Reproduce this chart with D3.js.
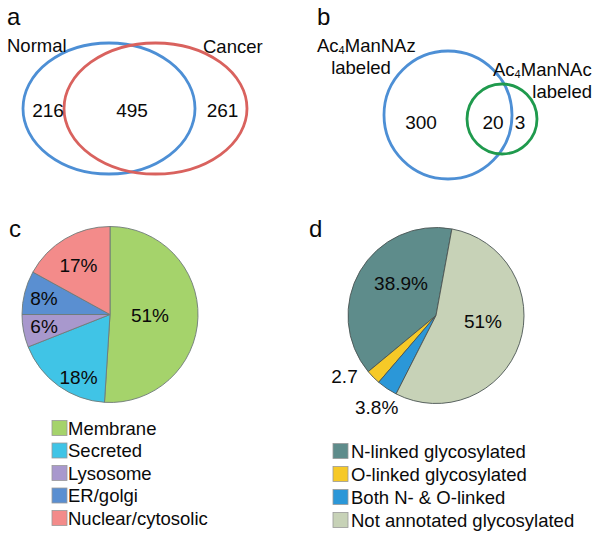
<!DOCTYPE html>
<html>
<head>
<meta charset="utf-8">
<script src="https://cdn.jsdelivr.net/npm/d3@7"></script>
<style>
  html, body { margin: 0; padding: 0; background: #fff; }
  svg { display: block; font-family: "Liberation Sans", Arial, sans-serif; }
</style>
</head>
<body>
<svg id="chart" width="603" height="540"></svg>
<script>
// ---------------- DATA ----------------
// Panel a: Venn (Normal vs Cancer)
const vennASets = ["Normal", "Cancer"];
const vennACounts = [216, 495, 261]; // Normal only, both, Cancer only

// Panel b: Venn (Ac4ManNAz vs Ac4ManNAc labeled)
const vennBSets = ["Ac4ManNAz labeled", "Ac4ManNAc labeled"];
const vennBCounts = [300, 20, 3];

// Panel c: subcellular localisation pie
const cCategories = ["Membrane", "Secreted", "Lysosome", "ER/golgi", "Nuclear/cytosolic"];
const cValues = [51, 18, 6, 8, 17];
const cLabels = ["51%", "18%", "6%", "8%", "17%"];
const cColors = ["#a5d36b", "#40c4e6", "#a898cd", "#5a8fd1", "#f38b8a"];

// Panel d: glycosylation annotation pie
const dCategories = ["N-linked glycosylated", "O-linked glycosylated", "Both N- & O-linked", "Not annotated glycosylated"];
const dValues = [38.9, 2.7, 3.8, 54.6];
const dLabels = ["38.9%", "2.7", "3.8%", "51%"];
const dColors = ["#5e8c8b", "#f6c927", "#2b97d8", "#c7d2b7"];

// ---------------- LAYOUT ----------------
const svg = d3.select("#chart");
const FS = 18.5;
const INK = "#0a0a0a";
const deg = Math.PI / 180;

function panelLetter(x, y, t) {
  svg.append("text").attr("x", x).attr("y", y).attr("font-size", 24).attr("fill", INK).text(t);
}
function txt(x, y, t, anchor, size) {
  return svg.append("text").attr("x", x).attr("y", y)
    .attr("text-anchor", anchor || "start")
    .attr("font-size", size || FS).attr("fill", INK).text(t);
}

// ---- Panel a ----
panelLetter(7, 25, "a");
const vennA = [
  { cx: 109, cy: 108.5, rx: 86, ry: 65.5, color: "#4d8fd5" },
  { cx: 155.5, cy: 108.5, rx: 91.5, ry: 65.5, color: "#d9625e" }
];
svg.append("g").selectAll("ellipse").data(vennA).join("ellipse")
  .attr("cx", d => d.cx).attr("cy", d => d.cy)
  .attr("rx", d => d.rx).attr("ry", d => d.ry)
  .attr("fill", "none").attr("stroke", d => d.color).attr("stroke-width", 2.8);
txt(7, 52, vennASets[0]);
txt(203, 53, vennASets[1]);
const aCountX = [48, 132, 222.5];
vennACounts.forEach((v, i) => txt(aCountX[i], 117, v, "middle", 19));

// ---- Panel b ----
panelLetter(317, 25, "b");
const vennB = [
  { cx: 448, cy: 115, r: 64, color: "#4d8fd5" },
  { cx: 502, cy: 119, r: 35, color: "#1f9a4d" }
];
svg.append("g").selectAll("circle").data(vennB).join("circle")
  .attr("cx", d => d.cx).attr("cy", d => d.cy).attr("r", d => d.r)
  .attr("fill", "none").attr("stroke", d => d.color).attr("stroke-width", 2.8);

function acLabel(x, y, last) {
  const t = svg.append("text").attr("x", x).attr("y", y).attr("font-size", FS).attr("fill", INK);
  t.append("tspan").text("Ac");
  t.append("tspan").attr("font-size", 11).attr("dy", 2).text("4");
  t.append("tspan").attr("dy", -2).text("ManNA" + last);
}
acLabel(317, 52, "z");
txt(361, 74, "labeled", "middle");
acLabel(493, 76, "c");
txt(592, 98, "labeled", "end");
const bCountX = [421, 493, 520];
vennBCounts.forEach((v, i) => txt(bCountX[i], 129, v, "middle", 19));

// ---- Panel c ----
panelLetter(9, 237, "c");
const cCenter = [110, 314.5], R = 88;
const arc = d3.arc().innerRadius(0).outerRadius(R);
const cPie = d3.pie().sort(null).value(d => d)(cValues);
const gc = svg.append("g").attr("transform", `translate(${cCenter})`);
gc.selectAll("path").data(cPie).join("path")
  .attr("d", arc).attr("fill", (d, i) => cColors[i])
  .attr("stroke", "#6f7a78").attr("stroke-width", 0.9);
// label placement (radius, angle in degrees clockwise from 12 o'clock)
const cLabelPos = [[40, 91.4], [70, 206.7], [67, 259.7], [68, 284], [58.7, 327.5]];
gc.selectAll("text.lbl").data(cPie).join("text").attr("class", "lbl")
  .attr("x", (d, i) => cLabelPos[i][0] * Math.sin(cLabelPos[i][1] * deg))
  .attr("y", (d, i) => -cLabelPos[i][0] * Math.cos(cLabelPos[i][1] * deg))
  .attr("dy", "0.36em").attr("text-anchor", "middle")
  .attr("font-size", 19).attr("fill", INK)
  .text((d, i) => cLabels[i]);

// legend c
const lgc = svg.append("g");
const cRowY = d3.scalePoint().domain(cCategories).range([428, 518]);
cCategories.forEach((c, i) => {
  const y = cRowY(c);
  lgc.append("rect").attr("x", 52).attr("y", y - 7.5).attr("width", 15).attr("height", 15)
    .attr("fill", cColors[i]).attr("stroke", "#9a9a9a").attr("stroke-width", 0.8);
  lgc.append("text").attr("x", 68).attr("y", y).attr("dy", "0.36em")
    .attr("font-size", FS).attr("fill", INK).text(c);
});

// ---- Panel d ----
panelLetter(309, 237, "d");
const dCenter = [436, 315.5];
const dStart = 10.4 * deg;
const dPie = d3.pie().sort(null).value(d => d)
  .startAngle(dStart).endAngle(dStart - 2 * Math.PI)(dValues);
const gd = svg.append("g").attr("transform", `translate(${dCenter})`);
gd.selectAll("path").data(dPie).join("path")
  .attr("d", arc).attr("fill", (d, i) => dColors[i])
  .attr("stroke", "#4b5553").attr("stroke-width", 0.9);
const dLabelPos = [[47.8, 313], [110, 236.3], [109, 213], [47.3, 96.7]];
gd.selectAll("text.lbl").data(dPie).join("text").attr("class", "lbl")
  .attr("x", (d, i) => dLabelPos[i][0] * Math.sin(dLabelPos[i][1] * deg))
  .attr("y", (d, i) => -dLabelPos[i][0] * Math.cos(dLabelPos[i][1] * deg))
  .attr("dy", "0.36em").attr("text-anchor", "middle")
  .attr("font-size", 19).attr("fill", INK)
  .text((d, i) => dLabels[i]);

// legend d
const lgd = svg.append("g");
const dRowY = d3.scalePoint().domain(dCategories).range([451, 520]);
dCategories.forEach((c, i) => {
  const y = dRowY(c);
  lgd.append("rect").attr("x", 333).attr("y", y - 7.5).attr("width", 15).attr("height", 15)
    .attr("fill", dColors[i]).attr("stroke", "#9a9a9a").attr("stroke-width", 0.8);
  lgd.append("text").attr("x", 351).attr("y", y).attr("dy", "0.36em")
    .attr("font-size", FS).attr("fill", INK).text(c);
});
</script>
</body>
</html>
